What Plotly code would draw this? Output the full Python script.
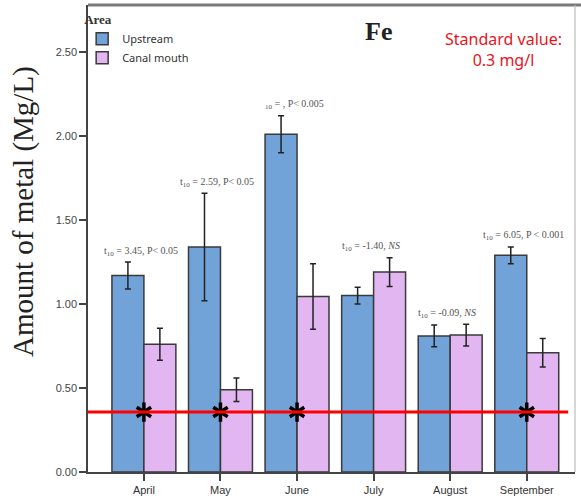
import plotly.graph_objects as go

months = ["April", "May", "June", "July", "August", "September"]
upstream = [1.17, 1.34, 2.01, 1.05, 0.81, 1.29]
upstream_err = [0.08, 0.32, 0.11, 0.05, 0.065, 0.05]
canal = [0.76, 0.49, 1.045, 1.19, 0.815, 0.71]
canal_err = [0.095, 0.07, 0.195, 0.085, 0.065, 0.085]
test_labels = [
    "t<sub>10</sub> = 3.45, P< 0.05",
    "t<sub>10</sub> = 2.59, P< 0.05",
    "<sub>10</sub> = , P< 0.005",
    "t<sub>10</sub> = -1.40, <i>NS</i>",
    "t<sub>10</sub> = -0.09, <i>NS</i>",
    "t<sub>10</sub> = 6.05, P < 0.001",
]
star_months = ["April", "May", "June", "September"]
standard_line = 0.357
y_ticks = [0.0, 0.5, 1.0, 1.5, 2.0, 2.5]

BLUE = "#72a3d8"
PINK = "#e2b6f0"
OUTLINE = "#3a3a3a"

fig = go.Figure()
fig.add_trace(go.Bar(
    name="Upstream", x=months, y=upstream,
    marker=dict(color=BLUE, line=dict(color=OUTLINE, width=1.5)),
    error_y=dict(type="data", array=upstream_err, color="#222", thickness=1.5, width=3),
))
fig.add_trace(go.Bar(
    name="Canal mouth", x=months, y=canal,
    marker=dict(color=PINK, line=dict(color=OUTLINE, width=1.5)),
    error_y=dict(type="data", array=canal_err, color="#222", thickness=1.5, width=3),
))

# standard value line
fig.add_shape(type="line", xref="paper", x0=0, x1=0.986, yref="y",
              y0=standard_line, y1=standard_line, line=dict(color="#ff0000", width=3))

# asterisks (6-arm) on the standard line
for sym in ["y-up-open", "y-down-open"]:
    fig.add_trace(go.Scatter(
        x=star_months, y=[standard_line] * len(star_months), mode="markers",
        marker=dict(symbol=sym, size=12, color="black", line=dict(color="black", width=3.5)),
        showlegend=False, hoverinfo="skip", cliponaxis=False,
    ))

# t-test labels
for m, u, ue, c, ce, lab in zip(months, upstream, upstream_err, canal, canal_err, test_labels):
    top = max(u + ue, c + ce)
    fig.add_annotation(x=m, y=top, text=lab, showarrow=False, yanchor="middle",
                       yshift=11, xshift=-3,
                       font=dict(family="Liberation Serif", size=10, color="#555"))

# Fe title and standard value note
fig.add_annotation(xref="paper", yref="paper", x=(378 - 88) / 487, y=1 - (32 - 5) / 467,
                   xanchor="center", yanchor="middle",
                   text="<b>Fe</b>", showarrow=False,
                   font=dict(family="Liberation Serif", size=26, color="#222"))
fig.add_annotation(xref="paper", yref="paper", x=(503 - 88) / 487, y=1 - (49 - 5) / 467,
                   xanchor="center", yanchor="middle",
                   text="Standard value:<br>0.3 mg/l", showarrow=False, align="center",
                   font=dict(family="Noto Sans", size=16, color="#e8141c"))

# y axis title
fig.add_annotation(xref="paper", yref="paper", x=(23 - 88) / 487, y=1 - (212 - 5) / 467,
                   xanchor="center", yanchor="middle",
                   text="Amount of metal (Mg/L)", textangle=-90, showarrow=False,
                   font=dict(family="Liberation Serif", size=29, color="#222"))

# frame lines (top and right)
fig.add_shape(type="line", xref="paper", yref="paper", x0=0, x1=1.02, y0=1, y1=1,
              line=dict(color="#7a7a7a", width=3))
fig.add_shape(type="line", xref="paper", yref="paper", x0=1, x1=1, y0=0, y1=1,
              line=dict(color="#bdbdbd", width=1.2))

fig.update_layout(
    width=581, height=501,
    margin=dict(l=88, r=6, t=5, b=29),
    paper_bgcolor="white", plot_bgcolor="white",
    barmode="group", bargap=0.165, bargroupgap=0,
    showlegend=True,
    legend=dict(
        title=dict(text="<b>Area</b>", font=dict(family="Liberation Serif", size=13, color="#333")),
        x=-0.012, y=0.995, xanchor="left", yanchor="top",
        bgcolor="rgba(0,0,0,0)",
        font=dict(family="Noto Sans", size=11, color="#333"),
        tracegroupgap=0,
    ),
    xaxis=dict(
        range=[-0.73, 5.63], showline=True, linecolor="#444", linewidth=1.5,
        ticks="outside", ticklen=7, tickcolor="#444", tickwidth=1.5,
        tickfont=dict(family="Liberation Sans", size=11, color="#333"),
        showgrid=False, zeroline=False, fixedrange=True,
    ),
    yaxis=dict(
        range=[0, 2.78], tickvals=y_ticks, tickformat=".2f",
        showline=True, linecolor="#444", linewidth=1.5,
        ticks="outside", ticklen=7, tickcolor="#444", tickwidth=1.5,
        tickfont=dict(family="Liberation Sans", size=11, color="#444"),
        showgrid=False, zeroline=False, fixedrange=True,
    ),
)

fig.write_html("out.html", config={"displayModeBar": False},
               post_script="document.body.style.margin='0';document.body.style.overflow='hidden';")
